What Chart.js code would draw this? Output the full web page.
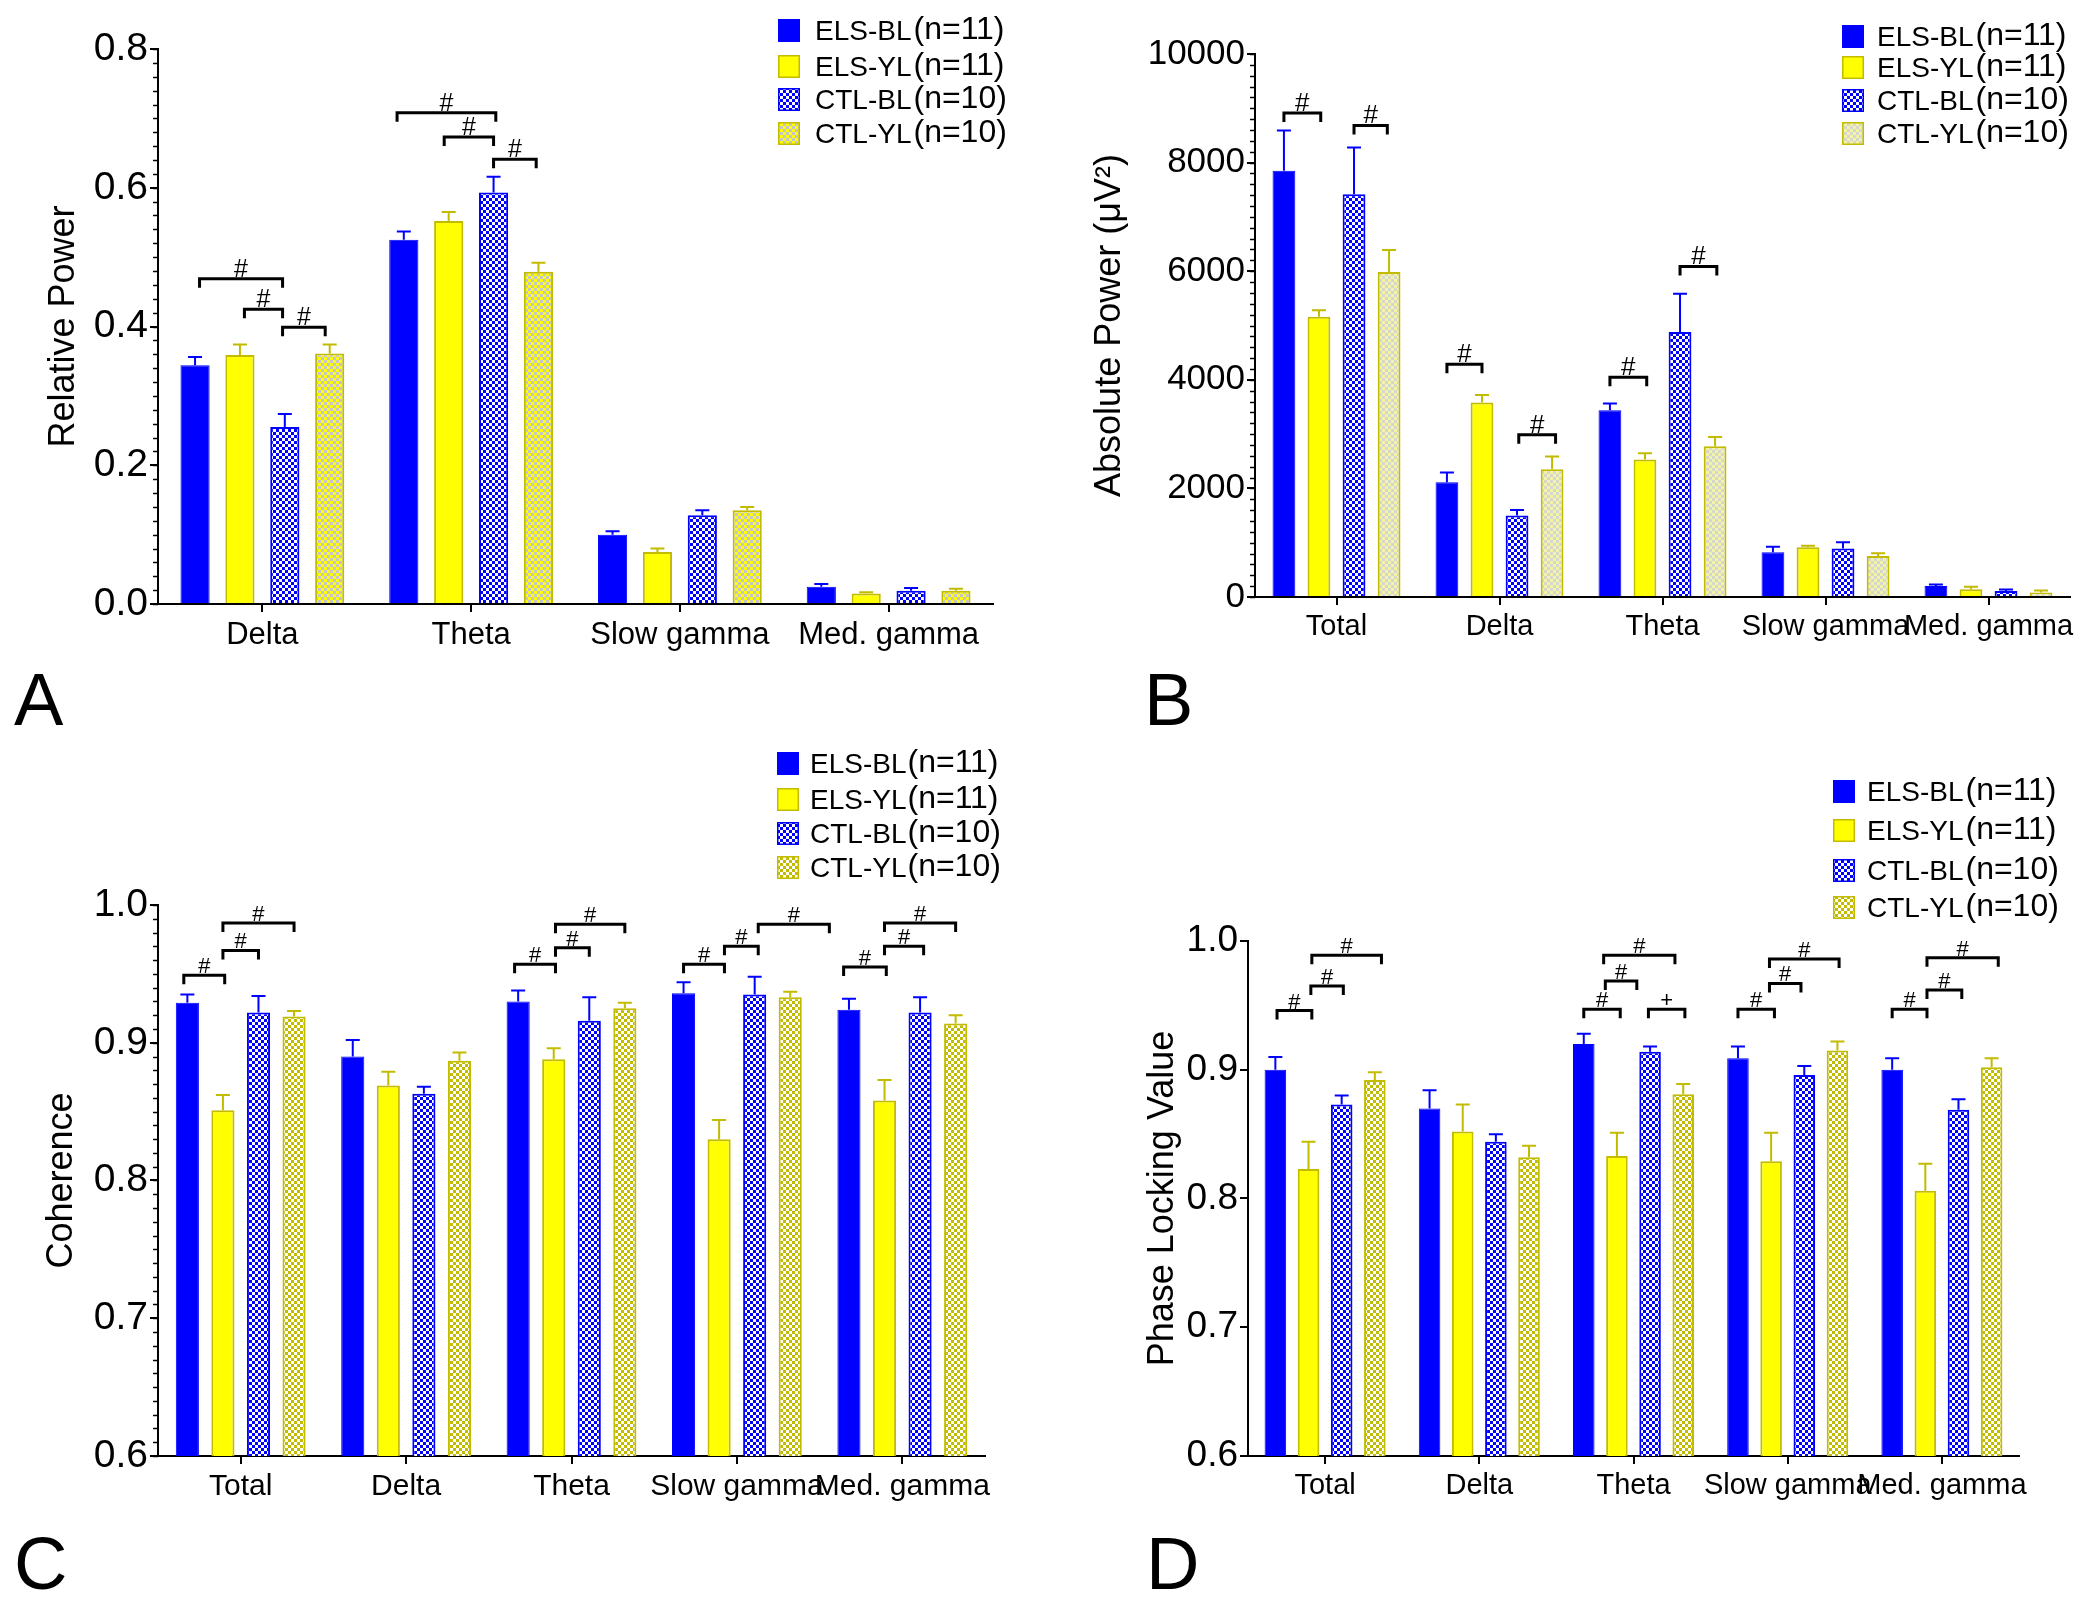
<!DOCTYPE html>
<html>
<head>
<meta charset="utf-8">
<script src="https://cdn.jsdelivr.net/npm/chart.js@4.4.1/dist/chart.umd.min.js"></script>
<style>
  body { margin: 0; background: #fff; width: 2085px; height: 1604px; position: relative; overflow: hidden; }
  canvas { position: absolute; }
</style>
</head>
<body>
<canvas id="chartA" width="1040" height="740" style="left:0;top:0"></canvas>
<canvas id="chartB" width="1045" height="740" style="left:1040px;top:0"></canvas>
<canvas id="chartC" width="1040" height="864" style="left:0;top:740px"></canvas>
<canvas id="chartD" width="1045" height="864" style="left:1040px;top:740px"></canvas>
<script>
var FONT = "'Liberation Sans', Arial, sans-serif";

var groups = ["ELS-BL", "ELS-YL", "CTL-BL", "CTL-YL"];
var groupN = ["(n=11)", "(n=11)", "(n=10)", "(n=10)"];
var bandsA = ["Delta", "Theta", "Slow gamma", "Med. gamma"];
var bands = ["Total", "Delta", "Theta", "Slow gamma", "Med. gamma"];

// A - relative power
var relElsBL = [0.344, 0.525, 0.100, 0.025];
var relElsBLErr = [0.012, 0.012, 0.005, 0.004];
var relElsYL = [0.359, 0.552, 0.075, 0.015];
var relElsYLErr = [0.015, 0.013, 0.005, 0.002];
var relCtlBL = [0.255, 0.593, 0.128, 0.019];
var relCtlBLErr = [0.019, 0.023, 0.007, 0.004];
var relCtlYL = [0.361, 0.479, 0.135, 0.019];
var relCtlYLErr = [0.013, 0.013, 0.005, 0.003];
var ticksA = [0, 0.2, 0.4, 0.6, 0.8];
// [band, from bar, to bar, height, mark]
var sigA = [
  [0, 0.1, 1.95, 0.469, "#"], [0, 1.1, 1.95, 0.425, "#"], [0, 1.95, 2.9, 0.399, "#"],
  [1, -0.15, 2.05, 0.708, "#"], [1, 0.9, 2.0, 0.673, "#"], [1, 2.0, 2.95, 0.641, "#"]
];

// B - absolute power
var absElsBL = [7852, 2114, 3438, 823, 204];
var absElsBLErr = [739, 178, 127, 102, 25];
var absElsYL = [5161, 3582, 2530, 917, 144];
var absElsYLErr = [119, 136, 119, 25, 43];
var absCtlBL = [7419, 1503, 4881, 891, 110];
var absCtlBLErr = [858, 101, 705, 119, 26];
var absCtlYL = [5985, 2351, 2776, 756, 85];
var absCtlYLErr = [407, 238, 170, 50, 34];
var ticksB = [0, 2000, 4000, 6000, 8000, 10000];
var sigB = [
  [0, 0, 1.05, 8913, "#"], [0, 2, 2.95, 8684, "#"],
  [1, 0, 1, 4287, "#"], [1, 2.05, 3.1, 2988, "#"],
  [2, 0, 1.05, 4049, "#"], [2, 2, 3.05, 6087, "#"]
];

// C - coherence
var cohElsBL = [0.929, 0.890, 0.930, 0.936, 0.924];
var cohElsBLErr = [0.006, 0.012, 0.008, 0.008, 0.008];
var cohElsYL = [0.851, 0.869, 0.888, 0.830, 0.858];
var cohElsYLErr = [0.011, 0.010, 0.008, 0.014, 0.015];
var cohCtlBL = [0.922, 0.863, 0.916, 0.935, 0.922];
var cohCtlBLErr = [0.012, 0.005, 0.017, 0.013, 0.011];
var cohCtlYL = [0.919, 0.887, 0.925, 0.933, 0.914];
var cohCtlYLErr = [0.004, 0.006, 0.004, 0.004, 0.006];
var ticksCD = [0.6, 0.7, 0.8, 0.9, 1.0];
var sigC = [
  [0, -0.1, 1.05, 0.949, "#"], [0, 1, 2, 0.967, "#"], [0, 1, 3, 0.987, "#"],
  [2, -0.1, 1.05, 0.957, "#"], [2, 1.05, 2, 0.969, "#"], [2, 1.05, 3, 0.986, "#"],
  [3, 0, 1.15, 0.957, "#"], [3, 1.15, 2.1, 0.970, "#"], [3, 2.1, 4.1, 0.986, "#"],
  [4, -0.15, 1.05, 0.955, "#"], [4, 1.0, 2.1, 0.970, "#"], [4, 1.0, 3.0, 0.987, "#"]
];

// D - phase locking value
var plvElsBL = [0.900, 0.870, 0.920, 0.909, 0.900];
var plvElsBLErr = [0.010, 0.014, 0.008, 0.009, 0.009];
var plvElsYL = [0.823, 0.852, 0.833, 0.829, 0.806];
var plvElsYLErr = [0.021, 0.021, 0.018, 0.022, 0.021];
var plvCtlBL = [0.873, 0.844, 0.914, 0.896, 0.869];
var plvCtlBLErr = [0.007, 0.006, 0.004, 0.007, 0.008];
var plvCtlYL = [0.892, 0.832, 0.881, 0.915, 0.902];
var plvCtlYLErr = [0.006, 0.009, 0.008, 0.007, 0.007];
var sigD = [
  [0, 0.05, 1.1, 0.946, "#"], [0, 1.07, 2.05, 0.965, "#"], [0, 1.1, 3.2, 0.989, "#"],
  [2, 0, 1.1, 0.947, "#"], [2, 0.65, 1.6, 0.969, "#"], [2, 0.6, 2.75, 0.989, "#"], [2, 1.95, 3.05, 0.947, "+"],
  [3, 0, 1.1, 0.947, "#"], [3, 0.95, 1.9, 0.967, "#"], [3, 0.95, 3.05, 0.986, "#"],
  [4, 0, 1.05, 0.947, "#"], [4, 1.05, 2.1, 0.962, "#"], [4, 1.05, 3.2, 0.987, "#"]
];

var BLUE = "#0000ff", YELLOW = "#ffff00", OLIVE = "#c2bb00";

function checker(bg, fg, cell) {
  var c = document.createElement("canvas");
  c.width = c.height = cell * 2;
  var g = c.getContext("2d");
  g.fillStyle = bg; g.fillRect(0, 0, cell * 2, cell * 2);
  g.fillStyle = fg; g.fillRect(0, 0, cell, cell); g.fillRect(cell, cell, cell, cell);
  return g.createPattern(c, "repeat");
}

function extras(spec) {
  return {
    id: "extras",
    afterDatasetsDraw: function (chart) {
      var ctx = chart.ctx, ys = chart.scales.y;
      ctx.save();
      // error bars (upper only)
      chart.data.datasets.forEach(function (ds, i) {
        var meta = chart.getDatasetMeta(i);
        meta.data.forEach(function (bar, j) {
          var top = ys.getPixelForValue(ds.data[j] + spec.errors[i][j]);
          ctx.strokeStyle = ds.borderColor;
          ctx.lineWidth = 2;
          ctx.beginPath();
          ctx.moveTo(bar.x, bar.y);
          ctx.lineTo(bar.x, top);
          ctx.moveTo(bar.x - 7, top);
          ctx.lineTo(bar.x + 7, top);
          ctx.stroke();
        });
      });
      // significance brackets
      var m0 = chart.getDatasetMeta(0), m1 = chart.getDatasetMeta(1);
      ctx.strokeStyle = "#000";
      ctx.fillStyle = "#000";
      ctx.lineWidth = 3;
      ctx.font = spec.markFont + "px " + FONT;
      ctx.textAlign = "center";
      ctx.textBaseline = "alphabetic";
      spec.sig.forEach(function (s) {
        var x0 = m0.data[s[0]].x, step = m1.data[s[0]].x - x0;
        var xa = x0 + s[1] * step, xb = x0 + s[2] * step;
        var yy = ys.getPixelForValue(s[3]);
        ctx.beginPath();
        ctx.moveTo(xa, yy + 9);
        ctx.lineTo(xa, yy);
        ctx.lineTo(xb, yy);
        ctx.lineTo(xb, yy + 9);
        ctx.stroke();
        ctx.fillText(s[4], (xa + xb) / 2, yy - 2);
      });
      ctx.restore();
    },
    afterDraw: function (chart) {
      var ctx = chart.ctx, ys = chart.scales.y, area = chart.chartArea;
      ctx.save();
      // minor ticks on y axis
      if (spec.minor) {
        ctx.strokeStyle = "#000";
        ctx.lineWidth = 1.5;
        var lo = ys.min, hi = ys.max, n = Math.round((hi - lo) / spec.minor);
        for (var k = 0; k <= n; k++) {
          var py = Math.round(ys.getPixelForValue(lo + k * spec.minor)) + 0.5;
          ctx.beginPath();
          ctx.moveTo(area.left - 5, py);
          ctx.lineTo(area.left, py);
          ctx.stroke();
        }
      }
      // legend
      var L = spec.legend;
      chart.data.datasets.forEach(function (ds, i) {
        var cy = L.ys[i];
        ctx.fillStyle = ds.backgroundColor;
        ctx.fillRect(L.x, cy - 11, 22, 23);
        ctx.strokeStyle = ds.borderColor;
        ctx.lineWidth = 1.5;
        ctx.strokeRect(L.x + 0.75, cy - 10.25, 20.5, 21.5);
        ctx.fillStyle = "#000";
        ctx.textAlign = "left";
        ctx.textBaseline = "middle";
        ctx.font = "28px " + FONT;
        ctx.fillText(groups[i], L.tx, cy + 2);
        var end = L.tx + ctx.measureText(groups[i]).width;
        var nx = L.nx ? Math.max(L.nx, end + 2) : end + 1;
        ctx.font = "32px " + FONT;
        ctx.fillText(groupN[i], nx, cy);
      });
      // panel letter
      ctx.fillStyle = "#000";
      ctx.textAlign = "left";
      ctx.textBaseline = "alphabetic";
      ctx.font = "74px " + FONT;
      ctx.fillText(spec.letter[0], spec.letter[1], spec.letter[2]);
      ctx.restore();
    }
  };
}

function datasets(values, ctlYL) {
  var fills = [BLUE, YELLOW, checker(BLUE, "#ffffff", 3), ctlYL];
  var borders = [BLUE, OLIVE, BLUE, OLIVE];
  return values.map(function (v, i) {
    return {
      label: groups[i],
      data: v,
      backgroundColor: fills[i],
      borderColor: borders[i],
      borderWidth: i === 0 ? 1 : 2,
      borderSkipped: "start",
      categoryPercentage: 0.86,
      barPercentage: 0.65
    };
  });
}

function makeChart(id, cfg) {
  var ctx = document.getElementById(id).getContext("2d");
  return new Chart(ctx, {
    type: "bar",
    data: { labels: cfg.labels, datasets: datasets(cfg.values, cfg.ctlYL) },
    options: {
      responsive: false,
      animation: false,
      events: [],
      layout: { autoPadding: false, padding: cfg.padding },
      plugins: { legend: { display: false }, tooltip: { enabled: false } },
      scales: {
        x: {
          afterFit: function (s) { s.height = cfg.xHeight; },
          grid: { display: true, offset: false, drawOnChartArea: false, drawTicks: true, tickLength: 8, color: "#000", lineWidth: 2 },
          border: { display: true, color: "#000", width: 2 },
          ticks: { autoSkip: false, maxRotation: 0, minRotation: 0, padding: 5, color: "#000", font: { family: FONT, size: cfg.catSize } }
        },
        y: {
          min: cfg.ticks[0],
          max: cfg.ticks[cfg.ticks.length - 1],
          afterFit: function (s) { s.width = cfg.yWidth; },
          afterBuildTicks: function (s) { s.ticks = cfg.ticks.map(function (v) { return { value: v }; }); },
          grid: { display: true, drawOnChartArea: false, drawTicks: true, tickLength: 8, color: "#000", lineWidth: 2 },
          border: { display: true, color: "#000", width: 2 },
          ticks: { padding: 2, color: "#000", font: { family: FONT, size: cfg.tickSize }, callback: cfg.fmt },
          title: { display: true, text: cfg.title, color: "#000", font: { family: FONT, size: 36 }, padding: { top: cfg.titlePad, bottom: 0 } }
        }
      }
    },
    plugins: [extras(cfg.extra)]
  });
}

function oneDecimal(v) { return Number(v).toFixed(1); }

makeChart("chartA", {
  labels: bandsA,
  values: [relElsBL, relElsYL, relCtlBL, relCtlYL],
  ctlYL: checker(YELLOW, "#c4c4cc", 3),
  ticks: ticksA, fmt: oneDecimal, tickSize: 39, catSize: 31,
  title: "Relative Power", titlePad: 42,
  padding: { left: 0, top: 49, right: 47, bottom: 0 },
  yWidth: 158, xHeight: 136,
  extra: {
    errors: [relElsBLErr, relElsYLErr, relCtlBLErr, relCtlYLErr],
    sig: sigA, markFont: 25, minor: 0.02,
    legend: { x: 778, tx: 815, nx: 913, ys: [30, 66, 99, 133] },
    letter: ["A", 14, 725]
  }
});

makeChart("chartB", {
  labels: bands,
  values: [absElsBL, absElsYL, absCtlBL, absCtlYL],
  ctlYL: checker("#f3f3a6", "#d6d6d0", 3),
  ticks: ticksB, fmt: function (v) { return String(v); }, tickSize: 35, catSize: 29,
  title: "Absolute Power (\u03bcV\u00b2)", titlePad: 48,
  padding: { left: 0, top: 54, right: 15, bottom: 0 },
  yWidth: 215, xHeight: 143,
  extra: {
    errors: [absElsBLErr, absElsYLErr, absCtlBLErr, absCtlYLErr],
    sig: sigB, markFont: 26, minor: 200,
    legend: { x: 802, tx: 837, nx: 921, ys: [36, 67, 100, 133] },
    letter: ["B", 104, 725]
  }
});

makeChart("chartC", {
  labels: bands,
  values: [cohElsBL, cohElsYL, cohCtlBL, cohCtlYL],
  ctlYL: checker("#c2bb00", "#ffffff", 3),
  ticks: ticksCD, fmt: oneDecimal, tickSize: 39, catSize: 30,
  title: "Coherence", titlePad: 40,
  padding: { left: 0, top: 165, right: 55, bottom: 0 },
  yWidth: 158, xHeight: 148,
  extra: {
    errors: [cohElsBLErr, cohElsYLErr, cohCtlBLErr, cohCtlYLErr],
    sig: sigC, markFont: 22, minor: 0.01,
    legend: { x: 777, tx: 810, nx: null, ys: [23, 59, 93, 127] },
    letter: ["C", 14, 849]
  }
});

makeChart("chartD", {
  labels: bands,
  values: [plvElsBL, plvElsYL, plvCtlBL, plvCtlYL],
  ctlYL: checker("#c2bb00", "#ffffff", 3),
  ticks: ticksCD, fmt: oneDecimal, tickSize: 37, catSize: 29,
  title: "Phase Locking Value", titlePad: 101,
  padding: { left: 0, top: 201, right: 66, bottom: 0 },
  yWidth: 208, xHeight: 148,
  extra: {
    errors: [plvElsBLErr, plvElsYLErr, plvCtlBLErr, plvCtlYLErr],
    sig: sigD, markFont: 22, minor: 0,
    legend: { x: 793, tx: 827, nx: 922, ys: [51, 90, 130, 167] },
    letter: ["D", 106, 849]
  }
});
</script>
</body>
</html>
